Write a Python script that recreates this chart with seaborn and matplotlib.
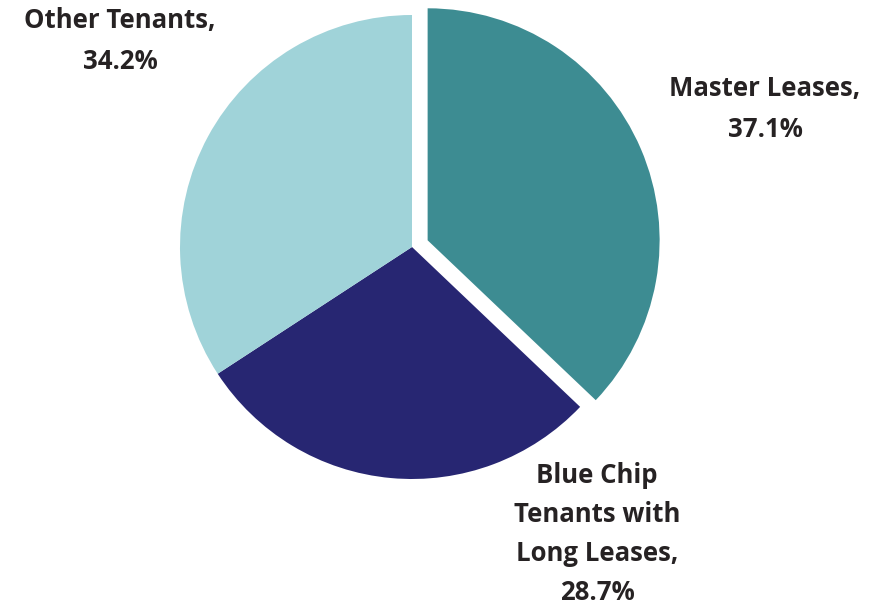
import matplotlib
matplotlib.use("Agg")
import matplotlib.pyplot as plt
import seaborn as sns

sns.set_theme(style="white")
plt.rcParams['font.family'] = ['Open Sans', 'DejaVu Sans']

categories = ["Master Leases", "Blue Chip Tenants with Long Leases", "Other Tenants"]
label_text = ["Master Leases,\n37.1%", "Blue Chip\nTenants with\nLong Leases,\n28.7%", "Other Tenants,\n34.2%"]
values = [37.1, 28.7, 34.2]
colors = ["#3D8C92", "#272672", "#A0D3D9"]
explode = [17, 0, 0]  # offset in pixels (data units)

W, H = 878, 607
fig = plt.figure(figsize=(W / 100, H / 100), dpi=100)
ax = fig.add_axes([0, 0, 1, 1])

cx, cy, r = 412, H - 247, 232
ax.pie(values, colors=colors, startangle=90, counterclock=False,
       explode=explode, center=(cx, cy), radius=r,
       wedgeprops=dict(linewidth=0), frame=True)
ax.set_xlim(0, W)
ax.set_ylim(0, H)
ax.axis("off")

label_pos = [(765, H - 109), (597, H - 534), (120, H - 41)]
spacing = [1.63, 1.58, 1.63]
for txt, (x, y), ls in zip(label_text, label_pos, spacing):
    ax.text(x, y, txt, ha="center", va="center", fontsize=18.5, fontweight="bold",
            color="#262223", linespacing=ls)

fig.savefig("out.png", dpi=100)
